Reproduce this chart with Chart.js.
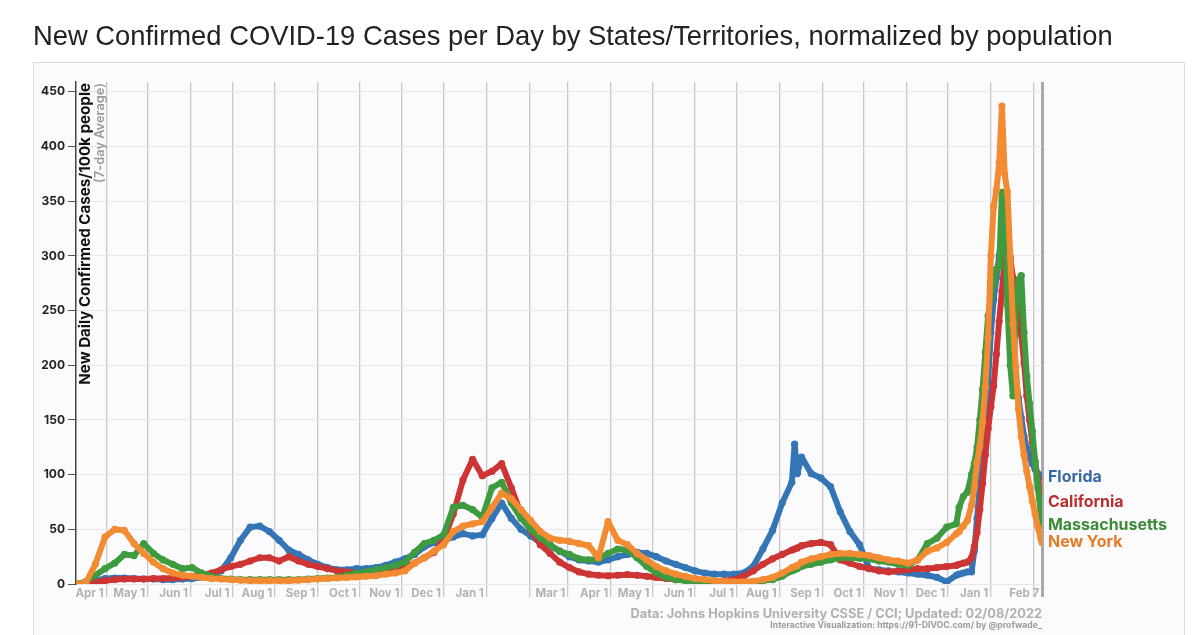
<!DOCTYPE html>
<html><head><meta charset="utf-8">
<script src="https://cdn.jsdelivr.net/npm/chart.js@4.4.0/dist/chart.umd.min.js"></script>
<style>
html,body{margin:0;padding:0;background:#fff;width:1200px;height:635px;overflow:hidden;}
#frame{position:absolute;left:33px;top:62px;width:1150px;height:600px;border:1px solid #dcdcdc;background:#fbfbfd;}
#wrap{position:absolute;left:0;top:0;width:1200px;height:635px;}
</style></head><body>
<div id="frame"></div>
<div id="wrap"><canvas id="c" width="1200" height="635"></canvas></div>
<script>
// day offsets from Apr 1, 2020
const days = [
 -22,-15,-8,-1,6,13,20,27,34,41,
 48,55,62,69,76,83,90,97,104,111,
 118,125,132,139,146,153,160,167,174,181,
 188,195,202,209,216,223,230,237,244,251,
 258,265,272,279,286,293,300,307,314,321,
 328,335,342,349,356,363,370,377,384,391,
 398,405,412,419,426,433,440,447,454,461,
 468,475,482,489,496,498,500,503,510,517,
 524,531,538,545,552,559,566,573,580,587,
 594,601,608,615,617,620,623,626,628,630,
 632,634,636,638,640,642,644,646,648,650,
 652,654,656,658,660,662,664,666,668,670,
 672,674,676,677];

const floridaCases = [
 0,1,3,5,5.5,5.5,5,4.5,4.5,4,
 4,4.5,5,6,8,12,24,40,52,53,
 48,40,31,27,22,18,15,13,13,14,
 14,15,17,20,23,27,34,38,40,43,
 46,44,45,60,74,60,50,44,38,35,
 30,25,22,21,20,22,25,27,29,28,
 25,21,18,15,12,10,9,9,9,10,
 16,32,49,74,93,128,101,116,101,97,
 89,66,48,36,14,13,12,11,10,9,
 8,6,2,8,9,10,11,11,30,60,
 90,115,140,185,230,260,280,300,320,300,
 270,230,195,190,170,152,135,124,116,110,
 105,101,99,98];

const californiaCases = [
 0,0.5,1.5,3,4,4.5,4.5,4.5,5,5,
 5.5,6,7,8,10,13,16,18,21,24,
 24,21,25,21,18,16,14,12,11,10,
 10,10.5,12,14,16,19,24,29,40,64,
 95,114,99,103,110,88,64,49,36,28,
 20,15,11,9,8,7.5,8,8.5,8,7,
 6,5,4,3.5,3,2.5,2.5,3,4,7,
 12,18,23,27,31,32,33,35,37,38,
 36,22,19,16,14,12,11,12,13,14,
 14,15,16,17,18,19,20,24,34,47,
 68,92,118,142,162,181,210,240,268,298,
 316,298,280,276,252,228,202,172,150,130,
 112,96,80,75];

const massachusettsCases = [
 0,2,8,14,19,27,26,37,28,22,
 18,14,15,10,7,5,4.5,4,4,4,
 4,4,4,4,4.5,5,5.5,6,8,10,
 11,13,15,17,20,29,37,40,45,70,
 72,68,61,88,93,74,60,50,42,36,
 30,27,23,22,23,28,32,31,24,16,
 10,6,4,3,2.5,2,1.5,1.5,1.5,1.5,
 2,3,4,7,12,13,14,16,18,20,
 22,24,24,23.5,23,21,20,18,17,22,
 37,42,52,55,70,80,84,100,110,125,
 150,178,212,245,262,275,288,290,358,335,
 255,200,172,250,278,282,230,190,165,140,
 112,88,66,54];

const newYorkCases = [
 0,1,18,43,50,49,37,28,20,14,
 10,8,7,6,5,4.5,4,3.5,3,3,
 3,3,3,3.5,4,4.5,5,5.5,6,6.5,
 7,7.5,9,10,12,19,24,30,36,48,
 53,55,57,70,83,78,68,58,48,42,
 40,39,37,35,24,57,40,36,28,22,
 16,12,9,7,5,4,3,2.5,2,2,
 2.5,4,6,10,15,16,17,20,23,25,
 27,28,28,27,26,24,22,21,19,22,
 30,33,38,46,48,53,58,72,88,111,
 126,148,180,225,300,345,360,385,437,375,
 358,300,238,198,160,135,118,103,89,76,
 64,52,42,38];

const stateNames = ['Florida','California','Massachusetts','New York'];
const lineColors = ['#3475b5','#cd3535','#3f9b3f','#f28b32'];
const labelColors = ['#3768a4','#bb2e2e','#3b8b36','#e47b27'];
const tickDays = [0,30,61,91,122,153,183,214,244,275,306,334,365,395,426,456,487,518,548,579,609,640,671,677];
const tickLabels = ['Apr 1','May 1','Jun 1','Jul 1','Aug 1','Sep 1','Oct 1','Nov 1','Dec 1','Jan 1','','Mar 1','Apr 1','May 1','Jun 1','Jul 1','Aug 1','Sep 1','Oct 1','Nov 1','Dec 1','Jan 1','','Feb 7'];
const yTickValues = [0,50,100,150,200,250,300,350,400,450];

const titleText = 'New Confirmed COVID-19 Cases per Day by States/Territories, normalized by population';
const yTitle = 'New Daily Confirmed Cases/100k people';
const ySubTitle = '(7-day Average)';
const credit1 = 'Data: Johns Hopkins University CSSE / CCI; Updated: 02/08/2022';
const credit2 = 'Interactive Visualization: https://91-DIVOC.com/ by @profwade_';

const AXF = 'Inter, "Open Sans", sans-serif';

function fitSize(ctx, text, weight, family, target){
  ctx.font = weight + ' 100px ' + family;
  return 100 * target / ctx.measureText(text).width;
}

const series = [floridaCases, californiaCases, massachusettsCases, newYorkCases];

const decor = {
  id: 'decor',
  beforeDatasetsDraw(chart){
    const ctx = chart.ctx;
    ctx.save();
    let s = fitSize(ctx, yTitle, '700', AXF, 302);
    ctx.font = '700 ' + s + 'px ' + AXF;
    ctx.fillStyle = '#111';
    ctx.textAlign = 'right';
    ctx.textBaseline = 'alphabetic';
    ctx.translate(90, 83);
    ctx.rotate(-Math.PI/2);
    ctx.fillText(yTitle, 0, 0);
    ctx.restore();
    ctx.save();
    s = fitSize(ctx, ySubTitle, '600', AXF, 100);
    ctx.font = '600 ' + s + 'px ' + AXF;
    ctx.fillStyle = '#9a9a9a';
    ctx.textAlign = 'right';
    ctx.textBaseline = 'alphabetic';
    ctx.translate(104, 83);
    ctx.rotate(-Math.PI/2);
    ctx.fillText(ySubTitle, 0, 0);
    ctx.restore();
  },
  afterDraw(chart){
    const ctx = chart.ctx;
    const ys = chart.scales.y;
    const area = chart.chartArea;
    ctx.save();
    let s = fitSize(ctx, titleText, '400', '"Liberation Sans", Arial, sans-serif', 1080);
    ctx.font = '400 ' + s + 'px "Liberation Sans", Arial, sans-serif';
    ctx.fillStyle = '#222';
    ctx.textAlign = 'left';
    ctx.textBaseline = 'alphabetic';
    ctx.fillText(titleText, 33, 45);
    s = fitSize(ctx, 'Massachusetts', '700', AXF, 119);
    ctx.font = '700 ' + s + 'px ' + AXF;
    ctx.textBaseline = 'middle';
    series.forEach((vals, i) => {
      const y = ys.getPixelForValue(vals[vals.length - 1]);
      ctx.fillStyle = labelColors[i];
      ctx.fillText(stateNames[i], area.right + 6, y);
    });
    ctx.textAlign = 'right';
    ctx.textBaseline = 'alphabetic';
    s = fitSize(ctx, credit1, '700', AXF, 412);
    ctx.font = '700 ' + s + 'px ' + AXF;
    ctx.fillStyle = '#b0b0b0';
    ctx.fillText(credit1, 1042, 617.5);
    s = fitSize(ctx, credit2, '700', AXF, 272);
    ctx.font = '700 ' + s + 'px ' + AXF;
    ctx.fillStyle = '#9a9a9a';
    ctx.fillText(credit2, 1042, 627.5);
    ctx.restore();
  }
};

new Chart(document.getElementById('c'), {
  type: 'line',
  data: {
    datasets: series.map((vals, i) => ({
      label: stateNames[i],
      data: days.map((d, j) => ({x: d, y: vals[j]})),
      borderColor: lineColors[i],
      backgroundColor: lineColors[i],
      pointBackgroundColor: lineColors[i],
      pointBorderWidth: 0,
      pointRadius: 3.6,
      borderWidth: 6,
      borderJoinStyle: 'round',
      borderCapStyle: 'round',
      tension: 0,
      fill: false,
      order: 4 - i
    }))
  },
  options: {
    responsive: false,
    animation: false,
    layout: {padding: {left: 36, right: 158, top: 82, bottom: 31}},
    plugins: {legend: {display: false}, tooltip: {enabled: false}},
    scales: {
      x: {
        type: 'linear',
        min: -22,
        max: 677,
        afterBuildTicks: (sc) => { sc.ticks = tickDays.map(v => ({value: v})); },
        afterFit: (sc) => { sc.height = 20; },
        border: {display: false},
        grid: {
          color: (c) => (c.tick && c.tick.value === 677) ? '#a8a8a8' : '#c8c8c8',
          tickColor: (c) => (c.tick && c.tick.value === 677) ? '#a8a8a8' : '#c8c8c8',
          lineWidth: (c) => (c.tick && c.tick.value === 677) ? 3 : 1.3,
          drawTicks: true,
          tickLength: 13
        },
        ticks: {
          autoSkip: false,
          maxRotation: 0,
          align: 'end',
          padding: -10,
          color: '#b2b2b2',
          font: {family: AXF, weight: '700', size: 11.5},
          callback: (v) => {
            const k = tickDays.indexOf(v);
            return (k >= 0 && tickLabels[k]) ? tickLabels[k] + ' ' : '';
          }
        }
      },
      y: {
        min: 0,
        max: 459,
        afterBuildTicks: (sc) => { sc.ticks = yTickValues.map(v => ({value: v})); },
        afterFit: (sc) => { sc.width = 40; },
        border: {display: true, color: '#444', width: 1.5},
        grid: {color: '#e6e6ec', lineWidth: 1, drawTicks: true, tickLength: 8, tickColor: '#555'},
        ticks: {
          color: '#222',
          padding: 3,
          font: {family: AXF, weight: '700', size: 12},
          callback: (v) => String(v)
        }
      }
    }
  },
  plugins: [decor]
});
</script>
</body></html>
